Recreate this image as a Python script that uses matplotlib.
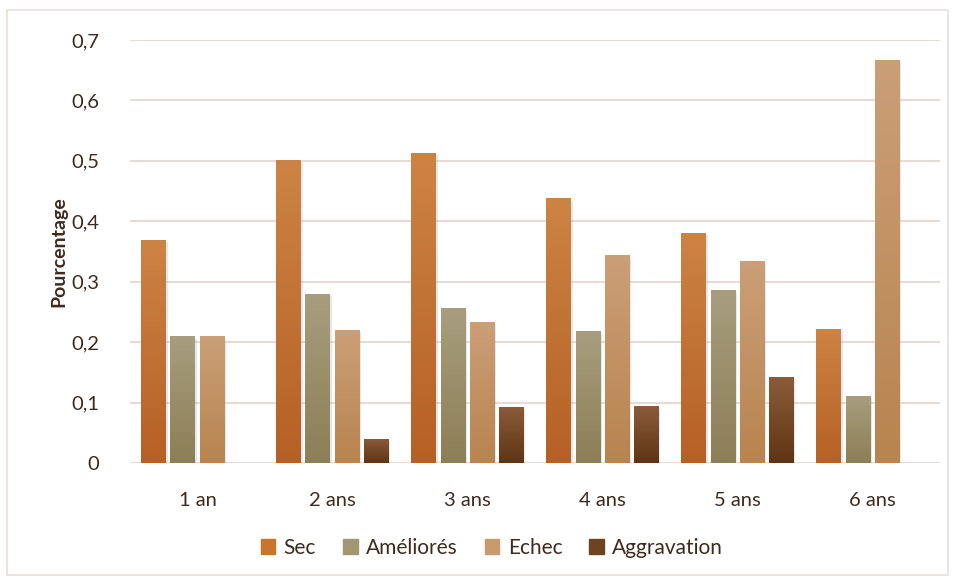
import numpy as np
import matplotlib
matplotlib.use('Agg')
import matplotlib.pyplot as plt
from matplotlib.colors import LinearSegmentedColormap
from matplotlib.patches import Rectangle

plt.rcParams['font.family'] = ['Lato', 'DejaVu Sans']

categories = ['1 an', '2 ans', '3 ans', '4 ans', '5 ans', '6 ans']
sec = [0.369, 0.501, 0.513, 0.438, 0.381, 0.222]
amelio = [0.210, 0.280, 0.256, 0.218, 0.286, 0.111]
echec = [0.210, 0.220, 0.233, 0.344, 0.334, 0.667]
aggrav = [0, 0.040, 0.093, 0.094, 0.142, 0]
y_ticks = [0, 0.1, 0.2, 0.3, 0.4, 0.5, 0.6, 0.7]

series = [
    ('Sec', sec, '#C8762C', ('#CC8444', '#B66026')),
    ('Améliorés', amelio, '#A09872', ('#A89E7E', '#8C7E56')),
    ('Echec', echec, '#C99A6C', ('#CB9F77', '#B8844F')),
    ('Aggravation', aggrav, '#6E4420', ('#8B5C3B', '#5E3514')),
]

text_col = '#3F2A1E'
grid_col = '#E6DCD5'

fig = plt.figure(figsize=(9.54, 5.78), dpi=100)
fig.patches.append(Rectangle((7 / 954, 3 / 578), 941 / 954, 565 / 578, transform=fig.transFigure,
                             fill=False, edgecolor='#E8DFDA', linewidth=1.2))
ax = fig.add_axes([130 / 954, 1 - 463 / 578, 810 / 954, 423 / 578])

x = np.arange(len(categories))
slot = 0.215
width = 0.185
handles = []
for i, (name, vals, col, (top, bot)) in enumerate(series):
    pos = x + (i - 1.5) * slot
    bars = ax.bar(pos, vals, width, color=col, zorder=3, label=name)
    cmap = LinearSegmentedColormap.from_list(name, [bot, top])
    grad = np.linspace(0, 1, 256).reshape(-1, 1)
    for b in bars:
        h = b.get_height()
        if h <= 0:
            continue
        # soft shadow
        sh = Rectangle((b.get_x() + 0.012, 0), b.get_width(), h - 0.004, facecolor='#B8BCC8',
                       alpha=0.35, zorder=2, edgecolor='none')
        ax.add_patch(sh)
        im = ax.imshow(grad, cmap=cmap, origin='lower', aspect='auto', zorder=4,
                       extent=(b.get_x(), b.get_x() + b.get_width(), 0, h))
        im.set_clip_path(b)
    handles.append(Rectangle((0, 0), 1, 1, color=col))

ax.set_xlim(-0.5, len(categories) - 0.5)
ax.set_ylim(0, 0.7)
ax.set_yticks(y_ticks)
ax.set_yticklabels(['0' if v == 0 else ('%.1f' % v).replace('.', ',') for v in y_ticks])
ax.set_xticks(x)
ax.set_xticklabels(categories)
ax.yaxis.grid(True, color=grid_col, linewidth=1.5, zorder=0)
ax.set_axisbelow(True)
for s in ax.spines.values():
    s.set_visible(False)
ax.tick_params(axis='both', length=0, labelsize=14.5, colors=text_col)
ax.tick_params(axis='y', pad=22)
ax.tick_params(axis='x', pad=21)
ax.set_ylabel('Pourcentage', fontsize=14, fontweight='bold', color=text_col, labelpad=3)

fig.legend(handles, [s[0] for s in series], loc='center', bbox_to_anchor=(492 / 954, 1 - 548 / 578),
           ncol=4, frameon=False, fontsize=15, handlelength=0.7, handleheight=0.7,
           columnspacing=1.3, handletextpad=0.4, labelcolor=text_col)

fig.savefig('out.png', dpi=100)
